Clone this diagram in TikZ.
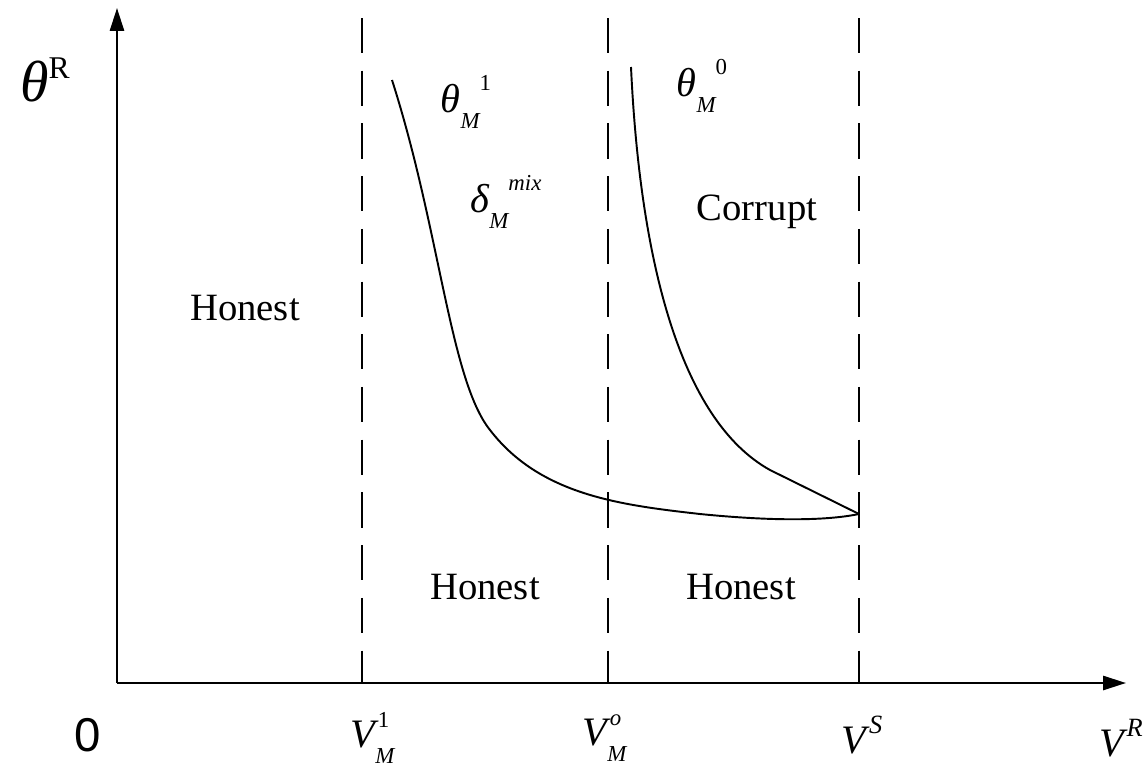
\documentclass[tikz,border=0pt]{standalone}
\usepackage{fontspec}
\setmainfont{Liberation Serif}
\newfontfamily\arialf{Liberation Sans}
\usetikzlibrary{arrows.meta}
\newcommand\lo[1]{\raisebox{-0.4em}{\fontsize{13}{14}\selectfont\itshape #1}}
\newcommand\hi[1]{\raisebox{0.55em}{\fontsize{13}{14}\selectfont\upshape #1}}
\newcommand\stk[2]{\raisebox{-0.4em}{\fontsize{13}{14}\selectfont\rlap{\itshape #1}}\raisebox{0.5em}{\fontsize{13}{14}\selectfont\hspace{0.1em}#2}}
\begin{document}
\begin{tikzpicture}[x=0.02cm,y=-0.02cm,
  axis/.style={line width=1.3pt,-{Triangle[length=13pt,width=8pt]}},
  guide/.style={line width=1.1pt,dash pattern=on 20pt off 10pt},
  curve/.style={line width=1.1pt},
  lbl/.style={font=\fontsize{22}{24}\selectfont,inner sep=0pt},
  sym/.style={font=\fontsize{23}{24}\selectfont,inner sep=0pt}]
\useasboundingbox (0,0) rectangle (1147,771);
\coordinate (O) at (117,683);
\coordinate (ytop) at (117,8);
\coordinate (xend) at (1126,683);
\draw[axis] (O) -- (ytop);
\draw[axis] (O) -- (xend);
\coordinate (d1t) at (362,18); \coordinate (d1b) at (362,683);
\coordinate (d2t) at (608,18); \coordinate (d2b) at (608,683);
\coordinate (d3t) at (859,18); \coordinate (d3b) at (859,683);
\draw[guide] (d1t) -- (d1b);
\draw[guide] (d2t) -- (d2b);
\draw[guide] (d3t) -- (d3b);
\coordinate (c1s) at (392,80);
\coordinate (meet) at (859,514);
\coordinate (c2s) at (631,67);
\draw[curve] (c1s) .. controls (440,230) and (450,380) .. (490,430)
  .. controls (540,495) and (620,505) .. (700,514)
  .. controls (780,522) and (830,520) .. (meet);
\draw[curve] (c2s) .. controls (640,260) and (680,420) .. (770,470)
  -- (meet);
\node[inner sep=0pt,font=\fontsize{33}{34}\selectfont] (thR) at (45,80) {\itshape θ\raisebox{0.4em}{\fontsize{18}{19}\selectfont\upshape R}};
\node[sym] (th1) at (466,102) {\itshape θ\lo{M}\hi{1}};
\node[sym] (del) at (506,202) {\itshape δ\lo{M}\hi{\itshape mix}};
\node[sym] (th0) at (702,86) {\itshape θ\lo{M}\hi{0}};
\node[lbl] (corr) at (757,212) {Corrupt};
\node[lbl] (h1) at (245,308) {Honest};
\node[lbl] (h2) at (485,587) {Honest};
\node[lbl] (h3) at (741,587) {Honest};
\node[inner sep=0pt,font=\arialf\fontsize{27}{30}\selectfont] (zero) at (88,735) {0};
\node[sym] (v1) at (370,738) {\itshape V\stk{M}{\upshape 1}\hspace{0.5em}};
\node[sym] (vo) at (602,738) {\itshape V\stk{M}{\itshape o}\hspace{0.5em}};
\node[sym] (vs) at (862,735) {\itshape V\raisebox{0.5em}{\fontsize{15}{16}\selectfont\itshape\hspace{0.1em}S}};
\node[sym] (vr) at (1121,738) {\itshape V\raisebox{0.5em}{\fontsize{15}{16}\selectfont\itshape\hspace{0.1em}R}};
\end{tikzpicture}
\end{document}
